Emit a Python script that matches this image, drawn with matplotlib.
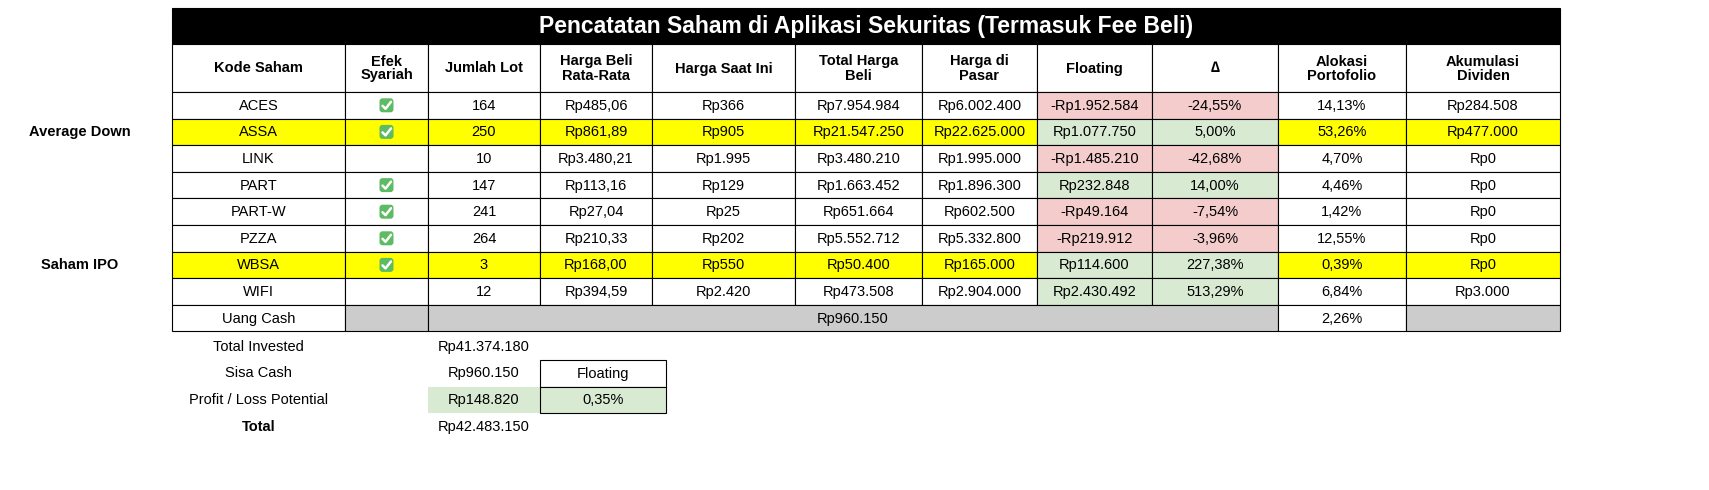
import matplotlib
matplotlib.use("Agg")
import matplotlib.pyplot as plt
from matplotlib.patches import Rectangle, FancyBboxPatch

plt.rcParams['font.family'] = ['Liberation Sans', 'DejaVu Sans']

TITLE = "Pencatatan Saham di Aplikasi Sekuritas (Termasuk Fee Beli)"
headers = ["Kode Saham", "Efek\nSyariah", "Jumlah Lot", "Harga Beli\nRata-Rata", "Harga Saat Ini",
           "Total Harga\nBeli", "Harga di\nPasar", "Floating", "\u2206", "Alokasi\nPortofolio",
           "Akumulasi\nDividen"]
kode = ["ACES", "ASSA", "LINK", "PART", "PART-W", "PZZA", "WBSA", "WIFI"]
syariah = [True, True, False, True, True, True, True, False]
lot = ["164", "250", "10", "147", "241", "264", "3", "12"]
harga_beli = ["Rp485,06", "Rp861,89", "Rp3.480,21", "Rp113,16", "Rp27,04", "Rp210,33", "Rp168,00", "Rp394,59"]
harga_kini = ["Rp366", "Rp905", "Rp1.995", "Rp129", "Rp25", "Rp202", "Rp550", "Rp2.420"]
total_beli = ["Rp7.954.984", "Rp21.547.250", "Rp3.480.210", "Rp1.663.452", "Rp651.664", "Rp5.552.712",
              "Rp50.400", "Rp473.508"]
harga_pasar = ["Rp6.002.400", "Rp22.625.000", "Rp1.995.000", "Rp1.896.300", "Rp602.500", "Rp5.332.800",
               "Rp165.000", "Rp2.904.000"]
floating = ["-Rp1.952.584", "Rp1.077.750", "-Rp1.485.210", "Rp232.848", "-Rp49.164", "-Rp219.912",
            "Rp114.600", "Rp2.430.492"]
delta = ["-24,55%", "5,00%", "-42,68%", "14,00%", "-7,54%", "-3,96%", "227,38%", "513,29%"]
alokasi = ["14,13%", "53,26%", "4,70%", "4,46%", "1,42%", "12,55%", "0,39%", "6,84%"]
dividen = ["Rp284.508", "Rp477.000", "Rp0", "Rp0", "Rp0", "Rp0", "Rp0", "Rp3.000"]
highlight = [False, True, False, False, False, False, True, False]
cash_value = "Rp960.150"
cash_alloc = "2,26%"
side_labels = {1: "Average Down", 6: "Saham IPO"}
summary_labels = ["Total Invested", "Sisa Cash", "Profit / Loss Potential", "Total"]
summary_values = ["Rp41.374.180", "Rp960.150", "Rp148.820", "Rp42.483.150"]
pl_floating = "0,35%"

YELLOW, RED, GREEN, GRAY = "#FFFF00", "#F4CCCC", "#D9EAD3", "#CCCCCC"
xs = [172, 345, 428, 540, 652, 795, 922, 1037, 1152, 1278, 1406, 1560]
y_title, y_head, y0, rh = 8, 44, 92, 26.6
FS = 10.5

fig = plt.figure(figsize=(17.09, 4.90), dpi=100)
ax = fig.add_axes([0, 0, 1, 1])
ax.set_xlim(0, 1709)
ax.set_ylim(490, 0)
ax.axis("off")


def cell(x0, x1, y, h, text="", fc="white", bold=False, border=True, color="black", fs=FS):
    ax.add_patch(Rectangle((x0, y), x1 - x0, h, facecolor=fc,
                           edgecolor="black" if border else "none", linewidth=0.8))
    if text:
        ax.text((x0 + x1) / 2, y + h / 2 + 0.5, text, ha="center", va="center", fontsize=fs,
                fontweight="bold" if bold else "normal", color=color, linespacing=1.0)


def check(cx, cy):
    ax.add_patch(FancyBboxPatch((cx - 7, cy - 7), 14, 14, boxstyle="round,pad=0,rounding_size=3",
                                facecolor="#5DBB63", edgecolor="none"))
    ax.plot([cx - 4, cx - 1, cx + 4.5], [cy + 0.5, cy + 3.5, cy - 3.5], color="white", lw=1.8,
            solid_capstyle="round")


# title
cell(xs[0], xs[-1], y_title, y_head - y_title, TITLE, fc="black", bold=True, color="white", fs=16.5)
for i, h in enumerate(headers):
    cell(xs[i], xs[i + 1], y_head, y0 - y_head, h, bold=True)

for r in range(len(kode)):
    y = y0 + r * rh
    vals = [kode[r], "", lot[r], harga_beli[r], harga_kini[r], total_beli[r], harga_pasar[r],
            floating[r], delta[r], alokasi[r], dividen[r]]
    for c, v in enumerate(vals):
        fc = YELLOW if highlight[r] else "white"
        if c in (7, 8):
            fc = RED if floating[r].startswith("-") else GREEN
        cell(xs[c], xs[c + 1], y, rh, v, fc=fc)
    if syariah[r]:
        check((xs[1] + xs[2]) / 2, y + rh / 2)
    if r in side_labels:
        ax.text(80, y + rh / 2, side_labels[r], ha="center", va="center", fontsize=FS, fontweight="bold")

y = y0 + len(kode) * rh
cell(xs[0], xs[1], y, rh, "Uang Cash")
cell(xs[1], xs[2], y, rh, fc=GRAY)
cell(xs[2], xs[9], y, rh, cash_value, fc=GRAY)
cell(xs[9], xs[10], y, rh, cash_alloc)
cell(xs[10], xs[11], y, rh, fc=GRAY)

ys = y + rh + 2
for i, (lab, val) in enumerate(zip(summary_labels, summary_values)):
    yy = ys + i * rh
    ax.text((xs[0] + xs[1]) / 2, yy + rh / 2, lab, ha="center", va="center", fontsize=FS,
            fontweight="bold" if lab == "Total" else "normal")
    if i == 2:
        cell(xs[2], xs[3], yy, rh, val, fc=GREEN, border=False)
    else:
        ax.text((xs[2] + xs[3]) / 2, yy + rh / 2, val, ha="center", va="center", fontsize=FS)
cell(xs[3], 666, ys + rh, rh, "Floating")
cell(xs[3], 666, ys + 2 * rh, rh, pl_floating, fc=GREEN)

fig.savefig("out.png", dpi=100)
